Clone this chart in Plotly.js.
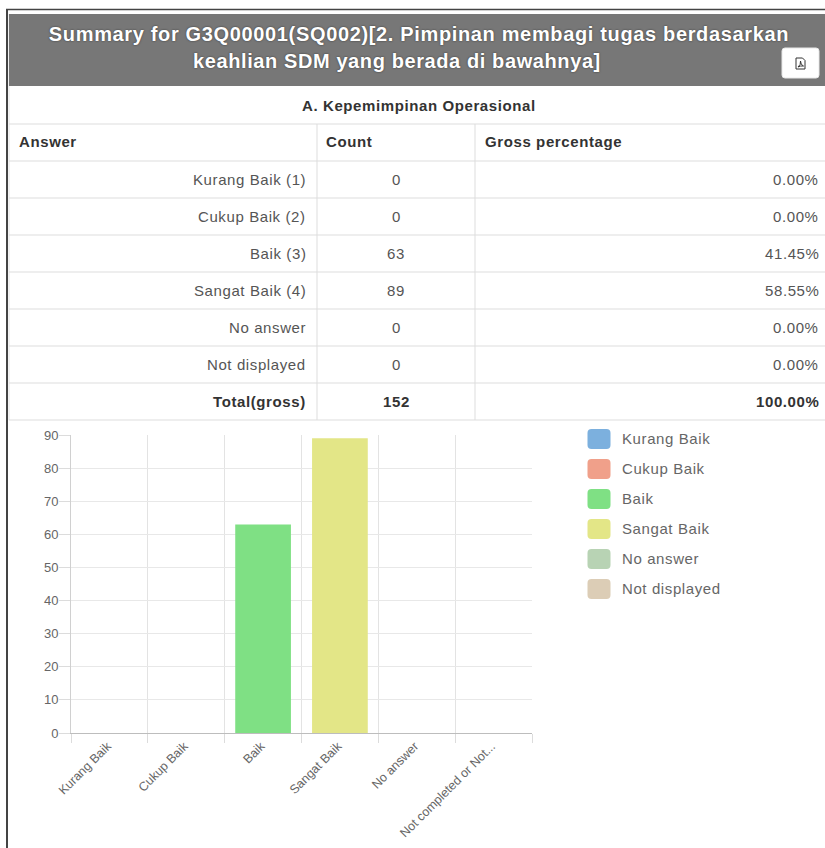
<!DOCTYPE html>
<html>
<head>
<meta charset="utf-8">
<script src="https://cdn.plot.ly/plotly-3.0.1.min.js"></script>
<style>
html,body{margin:0;padding:0;background:#fff;overflow:hidden}
#chart{width:825px;height:848px}
.annotation-text{letter-spacing:.6px}
.gtitle{letter-spacing:.65px}
</style>
</head>
<body>
<div id="chart"></div>
<script>
const W = 825, H = 848;
const titleLine1 = "Summary for G3Q00001(SQ002)[2. Pimpinan membagi tugas berdasarkan";
const titleLine2 = "keahlian SDM yang berada di bawahnya]";
const groupTitle = "A. Kepemimpinan Operasional";
const tableHeaders = ["Answer", "Count", "Gross percentage"];
const answers = ["Kurang Baik (1)", "Cukup Baik (2)", "Baik (3)", "Sangat Baik (4)", "No answer", "Not displayed"];
const counts = [0, 0, 63, 89, 0, 0];
const percents = ["0.00%", "0.00%", "41.45%", "58.55%", "0.00%", "0.00%"];
const totalRow = ["Total(gross)", "152", "100.00%"];
const categories = ["Kurang Baik", "Cukup Baik", "Baik", "Sangat Baik", "No answer", "Not completed or Not..."];
const legendLabels = ["Kurang Baik", "Cukup Baik", "Baik", "Sangat Baik", "No answer", "Not displayed"];
const barColors = ["#7cb0de", "#f0a08a", "#7fe084", "#e3e687", "#b8d3b4", "#dccdb6"];
const yTicks = [0, 10, 20, 30, 40, 50, 60, 70, 80, 90];

const M = {l:71, r:293, t:435, b:115};
const PW = W - M.l - M.r, PH = H - M.t - M.b;
const px = x => (x - M.l) / PW, py = y => (H - M.b - y) / PH;
const FONT = "Liberation Sans, Arial, sans-serif";
const titleFont = {family:FONT, size:20, color:"#fff", weight:"bold", shadow:"0 0 2px #333"};
const shapes = [], annotations = [];
function rect(x0, y0, x1, y1, fill) {
  shapes.push({type:"rect", xref:"paper", yref:"paper", x0:px(x0), x1:px(x1), y0:py(y0), y1:py(y1),
    fillcolor:fill, line:{width:0}, layer:"below"});
}
function line(x0, y0, x1, y1, color, width) {
  shapes.push({type:"line", xref:"paper", yref:"paper", x0:px(x0), x1:px(x1), y0:py(y0), y1:py(y1),
    line:{color:color, width:width||1}, layer:"below"});
}
function label(text, x, y, anchor, opts) {
  opts = opts || {};
  annotations.push({text:text, xref:"paper", yref:"paper", x:px(x), y:py(y), xanchor:anchor, yanchor:"middle",
    showarrow:false, borderpad:0, font:opts.font||{family:FONT, size:opts.size||15, color:opts.color||"#555"}});
}
function rounded(x0, y0, x1, y1, r, fill, lineColor) {
  const X0=px(x0),X1=px(x1),Y0=py(y0),Y1=py(y1),rx=r/PW,ry=r/PH;
  shapes.push({type:"path", xref:"paper", yref:"paper",
    path:`M${X0+rx},${Y0} L${X1-rx},${Y0} Q${X1},${Y0} ${X1},${Y0-ry} L${X1},${Y1+ry} Q${X1},${Y1} ${X1-rx},${Y1} L${X0+rx},${Y1} Q${X0},${Y1} ${X0},${Y1+ry} L${X0},${Y0-ry} Q${X0},${Y0} ${X0+rx},${Y0} Z`,
    fillcolor:fill, line:{width:lineColor?1:0, color:lineColor||fill}, layer:"above"});
}

// page frame and header band
line(6, 9.5, 825, 9.5, "#444", 1.5);
line(7, 9, 7, 848, "#444", 2);
line(9, 14, 9, 420, "#e4e4e4", 1);
rect(9, 14, 825, 86, "#777777");
label(titleLine2, 397, 61, "center", {font:titleFont});

// table rules
[124, 161, 198, 235, 272, 309, 346, 383, 420].forEach(y => line(9, y, 825, y, "#dddddd", 1));
[317, 475].forEach(x => line(x, 124, x, 420, "#dddddd", 1));

// table text
label("<b>"+groupTitle+"</b>", 419, 105, "center", {size:15, color:"#333"});
label("<b>"+tableHeaders[0]+"</b>", 18, 141.5, "left", {size:15, color:"#333"});
label("<b>"+tableHeaders[1]+"</b>", 325, 141.5, "left", {size:15, color:"#333"});
label("<b>"+tableHeaders[2]+"</b>", 484, 141.5, "left", {size:15, color:"#333"});
answers.forEach((a, i) => {
  const y = 179.5 + 37 * i;
  label(a, 307, y, "right");
  label(String(counts[i]), 396, y, "center");
  label(percents[i], 820, y, "right");
});
label("<b>"+totalRow[0]+"</b>", 307, 401.5, "right", {color:"#333"});
label("<b>"+totalRow[1]+"</b>", 396, 401.5, "center", {color:"#333"});
label("<b>"+totalRow[2]+"</b>", 820, 401.5, "right", {color:"#333"});

// button and file icon
rounded(782, 48, 819, 78, 3, "#ffffff", "#e8e8e8");
shapes.push({type:"path", xref:"paper", yref:"paper", layer:"above", line:{color:"#333", width:1},
  path:`M${px(796)},${py(58)} L${px(802.5)},${py(58)} L${px(805)},${py(60.5)} L${px(805)},${py(69)} L${px(796)},${py(69)} Z M${px(798)},${py(67)} Q${px(801)},${py(65)} ${px(800.5)},${py(61)} Q${px(800.5)},${py(65)} ${px(803.5)},${py(66)} Q${px(800.5)},${py(65.5)} ${px(798)},${py(67)}`});

// legend
legendLabels.forEach((t, i) => {
  const y = 439 + 30 * i;
  rounded(587.5, y-10, 610.5, y+10, 4, barColors[i]);
  label(t, 621, y-0.5, "left", {color:"#666"});
});

const data = [{
  type:"bar", x:categories, y:counts, width:0.725,
  marker:{color:barColors, line:{width:0}}, hoverinfo:"x+y", showlegend:false
}];

const layout = {
  width:W, height:H, autosize:false, paper_bgcolor:"#fff", plot_bgcolor:"#fff",
  margin:M, showlegend:false, font:{family:FONT},
  title:{text:titleLine1, xref:"container", yref:"container", x:419/W, xanchor:"center", y:1-34/H, yanchor:"middle",
    font:titleFont},
  xaxis:{type:"category", categoryorder:"array", categoryarray:categories, range:[-0.5,5.5],
    tickson:"boundaries", ticks:"outside", ticklen:9, tickcolor:"#dcdcdc", tickwidth:1,
    showgrid:true, gridcolor:"#e3e3e3", gridwidth:1, tickangle:-45, automargin:false, ticklabelshift:-2,
    tickfont:{family:FONT, size:12.5, color:"#666"}, showline:true, linecolor:"#bdbdbd", linewidth:1, zeroline:false},
  yaxis:{range:[0,90], tickmode:"array", tickvals:yTicks, ticks:"outside", ticklen:11, tickcolor:"#dcdcdc", tickwidth:1,
    showgrid:true, gridcolor:"#e8e8e8", gridwidth:1, automargin:false, ticklabelstandoff:-2,
    tickfont:{family:FONT, size:13, color:"#666"}, showline:true, linecolor:"#d0d0d0", linewidth:1, zeroline:false},
  shapes:shapes, annotations:annotations
};
Plotly.newPlot("chart", data, layout, {displayModeBar:false, responsive:false});
</script>
</body>
</html>
